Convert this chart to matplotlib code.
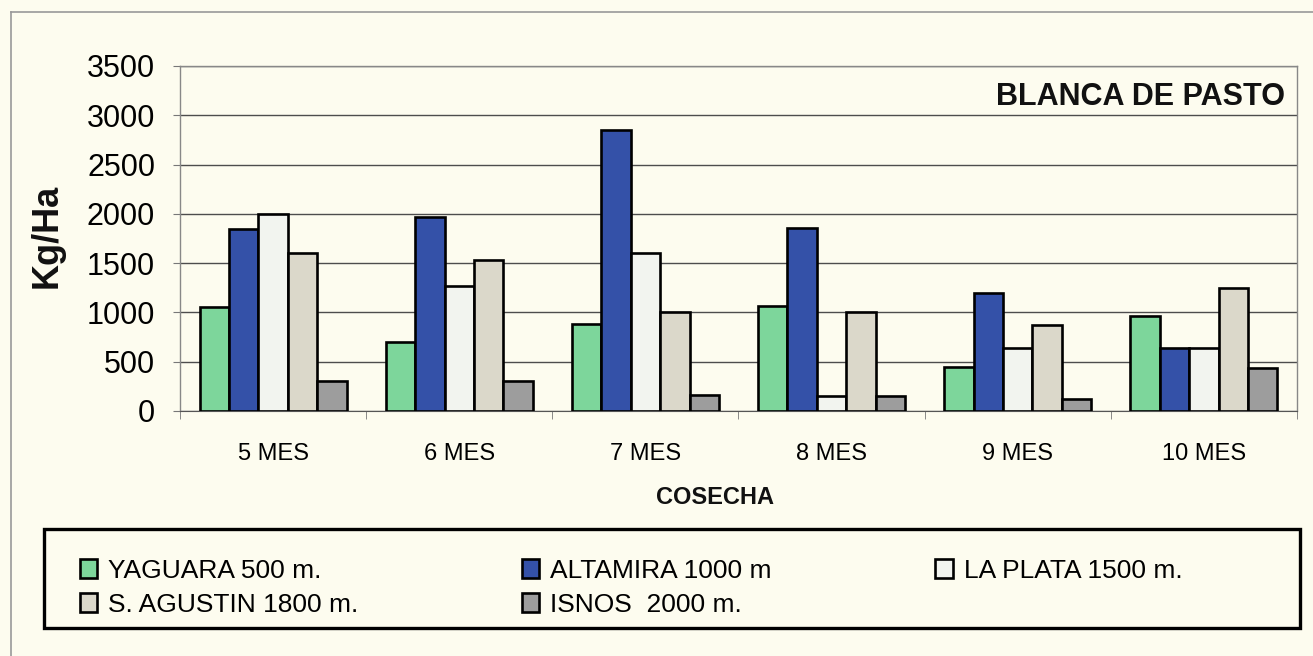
import matplotlib.pyplot as plt
import numpy as np
from matplotlib.patches import Rectangle
from matplotlib.lines import Line2D

plt.rcParams['font.family'] = ['Liberation Sans', 'DejaVu Sans']

# datos (Kg/Ha)
meses = ['5 MES', '6 MES', '7 MES', '8 MES', '9 MES', '10 MES']
yaguara = [1050, 700, 880, 1070, 450, 960]
altamira = [1850, 1970, 2850, 1860, 1200, 640]
la_plata = [2000, 1270, 1600, 150, 640, 640]
s_agustin = [1600, 1530, 1000, 1000, 870, 1250]
isnos = [300, 300, 160, 150, 120, 440]

nombres = ['YAGUARA 500 m.', 'ALTAMIRA 1000 m', 'LA PLATA 1500 m.',
           'S. AGUSTIN 1800 m.', 'ISNOS  2000 m.']
series = [yaguara, altamira, la_plata, s_agustin, isnos]
colores = ['#7DD69B', '#3451A8', '#F2F4EF', '#DBD8CA', '#9D9D9D']
fondo = '#FDFCEF'

fig = plt.figure(figsize=(13.13, 6.56), dpi=100, facecolor=fondo)
ax = fig.add_axes([0.1371, 0.3735, 0.8507, 0.5259], facecolor=fondo)

x = np.arange(len(meses))
ancho = 0.158
barras = []
for i, (serie, color) in enumerate(zip(series, colores)):
    b = ax.bar(x + (i - 2) * ancho, serie, ancho, color=color,
               edgecolor='black', linewidth=1.9, zorder=3)
    barras.append(b)

ax.set_xlim(-0.5, 5.5)
ax.set_ylim(0, 3500)
ax.set_yticks(range(0, 3501, 500))
ax.yaxis.grid(True, color='#4d4d4d', linewidth=1.0)
ax.set_axisbelow(True)
ax.tick_params(axis='y', labelsize=22, length=5, color='#777777', pad=13)

ax.set_xticks(x, meses)
ax.set_xticks(np.arange(-0.5, 6, 1), minor=True)
ax.tick_params(axis='x', which='major', length=0, labelsize=17, pad=23)
ax.tick_params(axis='x', which='minor', length=6, color='#777777')

for lado in ['left', 'top', 'right']:
    ax.spines[lado].set_color('#888888')
    ax.spines[lado].set_linewidth(1.0)
ax.spines['bottom'].set_color('#555555')

ax.text(0.989, 0.91, 'BLANCA DE PASTO', transform=ax.transAxes, ha='right',
        va='center', fontsize=22, fontweight='bold', color='#111111')

fig.text(0.036, 1 - 236 / 656, 'Kg/Ha', rotation=90, ha='center', va='center',
         fontsize=26, fontweight='bold', color='#111111')
fig.text(0.5446, 1 - 497 / 656, 'COSECHA', ha='center', va='center',
         fontsize=17, fontweight='bold', color='#111111')

# leyenda: filas como en el original
orden = [0, 3, 1, 4, 2]
fig.legend([barras[k] for k in orden], [nombres[k] for k in orden], ncol=3,
           loc='upper left', bbox_to_anchor=(80 / 1313, 1 - 559 / 656),
           frameon=False, fontsize=19, columnspacing=6.2, handlelength=0.65,
           handleheight=0.75, handletextpad=0.42, borderpad=0, borderaxespad=0,
           labelspacing=0.36)

fig.patches.append(Rectangle((44 / 1313, 1 - 628 / 656), (1300 - 44) / 1313,
                             (628 - 529) / 656, transform=fig.transFigure,
                             fill=False, edgecolor='black', linewidth=2.4))

# marco exterior
fig.add_artist(Line2D([11 / 1313, 11 / 1313], [0, 1 - 12 / 656],
                      transform=fig.transFigure, color='#999999', lw=1.2))
fig.add_artist(Line2D([11 / 1313, 1], [1 - 12 / 656, 1 - 12 / 656],
                      transform=fig.transFigure, color='#999999', lw=1.2))

fig.savefig('out.png', dpi=100, facecolor=fondo)
